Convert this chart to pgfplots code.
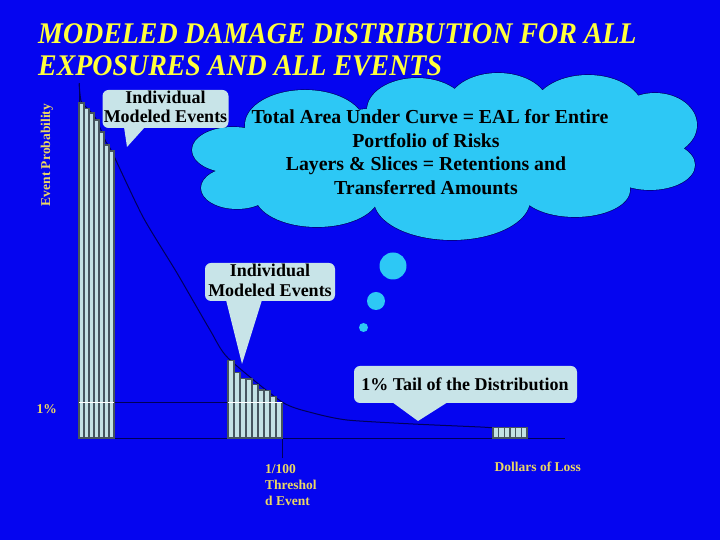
\documentclass[border=0pt]{standalone}
\usepackage{fontspec}
\setmainfont{Liberation Serif}
\usepackage{pgfplots}
\pgfplotsset{compat=1.18}
\definecolor{bg}{RGB}{5,5,240}
\definecolor{titleyellow}{RGB}{255,255,60}
\definecolor{labelgold}{RGB}{235,215,100}
\definecolor{barfill}{RGB}{195,225,228}
\definecolor{baredge}{RGB}{70,85,95}
\definecolor{callout}{RGB}{200,228,232}
\definecolor{cloudc}{RGB}{45,200,245}
\definecolor{navyline}{RGB}{0,0,90}
\newcommand{\cloudparts}{%
  (305,125) ellipse [x radius=60, y radius=35]
  (417,110) ellipse [x radius=50, y radius=32]
  (498,105) ellipse [x radius=50, y radius=32]
  (588,110) ellipse [x radius=55, y radius=35]
  (655,125) ellipse [x radius=42, y radius=32]
  (650,165) ellipse [x radius=45, y radius=25]
  (575,190) ellipse [x radius=55, y radius=27]
  (452,200) ellipse [x radius=78, y radius=40]
  (317,195) ellipse [x radius=62, y radius=32]
  (237,188) ellipse [x radius=36, y radius=21]
  (233,150) ellipse [x radius=41, y radius=23]
  (272,168) ellipse [x radius=40, y radius=26]
  (440,155) ellipse [x radius=190, y radius=50]}
\begin{document}
\begin{tikzpicture}
\useasboundingbox (0,0) rectangle (720bp,540bp);
\fill[bg] (0,0) rectangle (720bp,540bp);
\begin{axis}[
  at={(79bp,102bp)}, anchor=south west,
  scale only axis, width=486bp, height=355bp,
  xmin=0, xmax=486, ymin=0, ymax=9.8611,
  clip=false,
  axis lines*=left,
  axis line style={draw=navyline, line width=0.8bp, -},
  xtick={203}, xticklabels={{1/100\\Threshol\\d Event}},
  ytick={1}, yticklabels={1\%},
  tick align=outside,
  major tick length=20bp,
  xtick style={draw=navyline, line width=0.8bp},
  ytick style={draw=none},
  /pgf/number format/assume math mode=true,
  ticklabel style={font=\fontsize{13.5bp}{16bp}\selectfont\bfseries, text=labelgold},
  xticklabel style={anchor=north west, align=left, xshift=-17bp, yshift=-6bp, inner sep=0pt},
  yticklabel style={anchor=east, inner sep=0pt, xshift=-2bp, yshift=-7bp},
  xlabel={Dollars of Loss},
  ylabel={Event Probability},
  label style={font=\fontsize{13.5bp}{16bp}\selectfont\bfseries, text=labelgold},
  xlabel style={at={(axis description cs:0.944,-0.082)}, anchor=center},
  ylabel style={at={(axis description cs:-0.066,0.797)}, anchor=center},
]
% 1% reference line
\addplot[navyline, line width=0.8bp] coordinates {(0,1) (203,1)};
% loss exceedance curve
\addplot[navyline, line width=1bp, smooth, tension=0.4] coordinates {
  (0,9.85) (2,9.361) (7,9.194) (12,9.056) (17,8.861) (22,8.556) (27,8.222) (33,7.944)
  (64,6.139) (98,4.583) (131,3.0) (149,2.222) (203,1.0) (234,0.694) (268,0.5)
  (334,0.389) (401,0.306) (414,0.286) (448,0.28)};
% individual modeled events, group 1
\addplot[ybar, bar width=5, bar shift=0pt, fill=barfill, draw=baredge, line width=1.2bp] coordinates {
  (2.5,9.306) (7.5,9.158) (12.5,9.028) (17.5,8.833) (22.5,8.5) (27.5,8.139) (32.5,7.972)};
% individual modeled events, group 2
\addplot[ybar, bar width=6, bar shift=0pt, fill=barfill, draw=baredge, line width=1.2bp] coordinates {
  (152,2.147) (158,1.825) (164,1.658) (170,1.639) (176,1.492) (182,1.333) (188,1.314) (194,1.147) (200,0.992)};
% tail events
\addplot[ybar, bar width=5.667, bar shift=0pt, fill=barfill, draw=baredge, line width=1.2bp] coordinates {
  (416.83,0.286) (422.5,0.286) (428.17,0.286) (433.83,0.286) (439.5,0.286) (445.17,0.286)};
% 1% line over the bars
\addplot[white, line width=0.8bp] coordinates {(0,1) (35,1)};
\addplot[white, line width=0.8bp] coordinates {(149,1) (203,1)};
\end{axis}
\begin{scope}[x=1bp, y=-1bp, yshift=540bp]
% title
\node[anchor=base west, inner sep=0pt, text=titleyellow, font=\fontsize{30bp}{32bp}\selectfont\bfseries\itshape] at (38,43.3) {\scalebox{0.93}[1]{MODELED DAMAGE DISTRIBUTION FOR ALL}};
\node[anchor=base west, inner sep=0pt, text=titleyellow, font=\fontsize{30bp}{32bp}\selectfont\bfseries\itshape] at (38,75.5) {\scalebox{0.93}[1]{EXPOSURES AND ALL EVENTS}};
% cloud: outline of every puff, then fill of every puff on top
\draw[navyline, line width=1.2bp] \cloudparts;
\fill[cloudc] \cloudparts;
\fill[cloudc] (393,266) circle (13.5);
\fill[cloudc] (376,301) circle (9);
\fill[cloudc] (363.5,327.5) circle (4.5);
\begin{scope}[every node/.style={anchor=base, inner sep=0pt, font=\fontsize{19.8bp}{23bp}\selectfont\bfseries, text=black}]
\node at (430,124) {Total Area Under Curve = EAL for Entire};
\node at (426,147.5) {Portfolio of Risks};
\node at (426,171) {Layers \& Slices = Retentions and};
\node at (426,195) {Transferred Amounts};
\end{scope}
% callouts
\fill[callout, rounded corners=6bp] (102.5,90) rectangle (228.5,128);
\fill[callout] (124,127) -- (127,147) -- (145,127) -- cycle;
\fill[callout, rounded corners=6bp] (205,263) rectangle (335,301);
\fill[callout] (226,300) -- (242,364) -- (262,300) -- cycle;
\fill[callout, rounded corners=6bp] (354,366) rectangle (577,403);
\fill[callout] (392,402) -- (418,421) -- (448,402) -- cycle;
\begin{scope}[every node/.style={anchor=base, inner sep=0pt, font=\fontsize{18bp}{20bp}\selectfont\bfseries, text=black}]
\node at (165.5,103.3) {Individual};
\node at (165.5,122.7) {Modeled Events};
\node at (270,277) {Individual};
\node at (270,297) {Modeled Events};
\node at (465,390.7) {1\% Tail of the Distribution};
\end{scope}
\end{scope}
\end{tikzpicture}
\end{document}
